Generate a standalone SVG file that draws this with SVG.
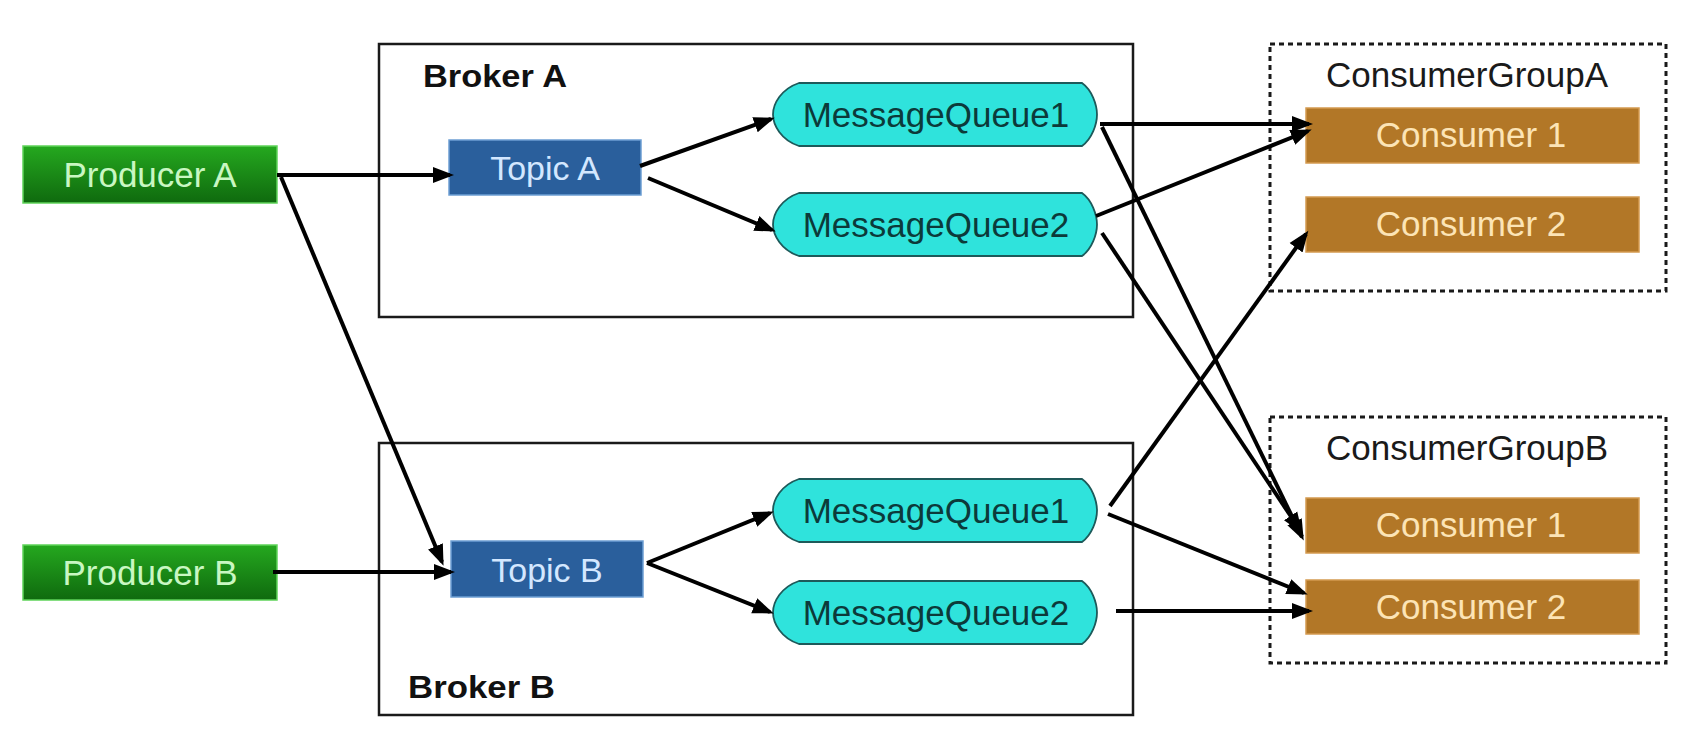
<svg xmlns="http://www.w3.org/2000/svg" width="1687" height="729" viewBox="0 0 1687 729">
<style>
  text { font-family: "Liberation Sans", Arial, sans-serif; }
  .broker { fill: #ffffff; stroke: #1a1a1a; stroke-width: 2.5; }
  .brokerlbl { font-size: 32px; font-weight: bold; fill: #111111; }
  .group { fill: none; stroke: #1a1a1a; stroke-width: 3; stroke-dasharray: 5 4; }
  .grouplbl { font-size: 35px; fill: #1a1a1a; text-anchor: middle; }
  .producer { fill: url(#gGreen); stroke: #5fd35a; stroke-width: 1.5; }
  .producerlbl { font-size: 35px; fill: #c9f7c2; text-anchor: middle; }
  .topic { fill: #2a5f9c; stroke: #6d9fd4; stroke-width: 1.5; }
  .topiclbl { font-size: 34px; fill: #d3e7ff; text-anchor: middle; }
  .mq { fill: #2fe3dc; stroke: #1d5a5a; stroke-width: 1.8; }
  .mqlbl { font-size: 35px; fill: #0c3a3a; text-anchor: middle; }
  .consumer { fill: #b27727; stroke: #d49a50; stroke-width: 1.5; }
  .consumerlbl { font-size: 35px; fill: #fce4b6; text-anchor: middle; }
  .conn line { stroke: #000000; stroke-width: 4; marker-end: url(#arrow); }
</style>
<defs>
  <linearGradient id="gGreen" x1="0" y1="0" x2="0" y2="1">
    <stop offset="0" stop-color="#25a81f"/>
    <stop offset="1" stop-color="#0f6a0e"/>
  </linearGradient>
  <path id="mqShape" d="M26,0 H309 C319,7 324,22 324,31.5 C324,41 319,56 309,63 H26 C8,57 0,42 0,31.5 C0,21 8,6 26,0 Z"/>
  <marker id="arrow" markerUnits="userSpaceOnUse" markerWidth="22" markerHeight="18" refX="17" refY="9" orient="auto">
    <path d="M0,1 L21,9 L0,17 Z" fill="#000000"/>
  </marker>
</defs>
<rect x="0" y="0" width="1687" height="729" fill="#ffffff"/>

<g id="brokerA">
  <rect class="broker" x="379" y="44" width="754" height="273"/>
  <text class="brokerlbl" x="423" y="87" textLength="144" lengthAdjust="spacingAndGlyphs">Broker A</text>
</g>
<g id="brokerB">
  <rect class="broker" x="379" y="443" width="754" height="272"/>
  <text class="brokerlbl" x="408" y="698" textLength="147" lengthAdjust="spacingAndGlyphs">Broker B</text>
</g>
<g id="consumerGroupA">
  <rect class="group" x="1270" y="44" width="396" height="247"/>
  <text class="grouplbl" x="1467" y="87">ConsumerGroupA</text>
</g>
<g id="consumerGroupB">
  <rect class="group" x="1270" y="417" width="396" height="246"/>
  <text class="grouplbl" x="1467" y="460">ConsumerGroupB</text>
</g>

<g id="producerA">
  <rect class="producer" x="23" y="146" width="254" height="57"/>
  <text class="producerlbl" x="150" y="187">Producer A</text>
</g>
<g id="producerB">
  <rect class="producer" x="23" y="545" width="254" height="55"/>
  <text class="producerlbl" x="150" y="585">Producer B</text>
</g>

<g id="topicA">
  <rect class="topic" x="449" y="140" width="192" height="55"/>
  <text class="topiclbl" x="545" y="180">Topic A</text>
</g>
<g id="topicB">
  <rect class="topic" x="451" y="541" width="192" height="56"/>
  <text class="topiclbl" x="547" y="582">Topic B</text>
</g>

<g id="mqA1">
  <use href="#mqShape" class="mq" x="773" y="83"/>
  <text class="mqlbl" x="936" y="127">MessageQueue1</text>
</g>
<g id="mqA2">
  <use href="#mqShape" class="mq" x="773" y="193"/>
  <text class="mqlbl" x="936" y="237">MessageQueue2</text>
</g>
<g id="mqB1">
  <use href="#mqShape" class="mq" x="773" y="479"/>
  <text class="mqlbl" x="936" y="523">MessageQueue1</text>
</g>
<g id="mqB2">
  <use href="#mqShape" class="mq" x="773" y="581"/>
  <text class="mqlbl" x="936" y="625">MessageQueue2</text>
</g>

<g id="consumerA1">
  <rect class="consumer" x="1306" y="108" width="333" height="55"/>
  <text class="consumerlbl" x="1471" y="147">Consumer 1</text>
</g>
<g id="consumerA2">
  <rect class="consumer" x="1306" y="197" width="333" height="55"/>
  <text class="consumerlbl" x="1471" y="236">Consumer 2</text>
</g>
<g id="consumerB1">
  <rect class="consumer" x="1306" y="498" width="333" height="55"/>
  <text class="consumerlbl" x="1471" y="537">Consumer 1</text>
</g>
<g id="consumerB2">
  <rect class="consumer" x="1306" y="580" width="333" height="54"/>
  <text class="consumerlbl" x="1471" y="619">Consumer 2</text>
</g>

<g id="connectors" class="conn">
  <line x1="277" y1="175" x2="450" y2="175"/>
  <line x1="281" y1="177" x2="442" y2="562"/>
  <line x1="273" y1="572" x2="451" y2="572"/>
  <line x1="640" y1="166" x2="771" y2="119"/>
  <line x1="648" y1="178" x2="772" y2="230"/>
  <line x1="647" y1="563" x2="770" y2="513"/>
  <line x1="647" y1="563" x2="770" y2="612"/>
  <line x1="1100" y1="124" x2="1309" y2="124"/>
  <line x1="1096" y1="216" x2="1308" y2="131"/>
  <line x1="1102" y1="127" x2="1302" y2="537"/>
  <line x1="1102" y1="233" x2="1300" y2="530"/>
  <line x1="1110" y1="506" x2="1306" y2="234"/>
  <line x1="1108" y1="514" x2="1304" y2="593"/>
  <line x1="1116" y1="611" x2="1309" y2="611"/>
</g>
</svg>
